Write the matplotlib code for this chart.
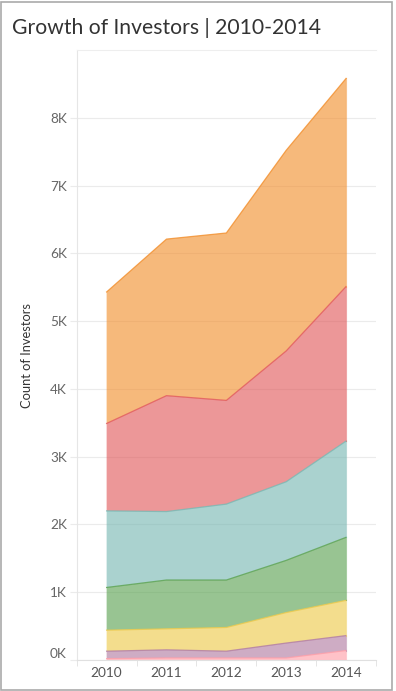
import matplotlib
matplotlib.use("Agg")
import matplotlib.pyplot as plt
from matplotlib.patches import Rectangle
from matplotlib.ticker import FixedLocator, FuncFormatter
import matplotlib.transforms as mtransforms
import numpy as np

years = ["2010", "2011", "2012", "2013", "2014"]
# series from bottom of stack to top
pink = [20, 30, 30, 30, 140]
purple = [110, 120, 100, 220, 220]
yellow = [310, 310, 350, 450, 520]
green = [630, 720, 700, 770, 930]
teal = [1130, 1010, 1120, 1160, 1420]
red = [1290, 1710, 1530, 1930, 2280]
orange = [1940, 2310, 2470, 2960, 3070]

series = [pink, purple, yellow, green, teal, red, orange]
edge_colors = ["#FF9DA7", "#B07AA1", "#EDC948", "#59A14F", "#76B7B2", "#E15759", "#F28E2B"]
yticks = [0, 1000, 2000, 3000, 4000, 5000, 6000, 7000, 8000]

W, H = 396, 691
fig = plt.figure(figsize=(W / 100, H / 100), dpi=100)
ax = fig.add_axes([76.7 / W, 1 - 660 / H, (376 - 76.7) / W, (660 - 50) / H])

x = np.arange(len(years))
base = np.zeros(len(years))
for vals, c in zip(series, edge_colors):
    top = base + np.array(vals)
    ax.fill_between(x, base, top, facecolor=c, alpha=0.62, edgecolor="none", zorder=2)
    ax.plot(x, top, color=c, lw=0.9, alpha=0.8, zorder=3)
    ax.plot([x[-1], x[-1]], [base[-1], top[-1]], color=c, lw=0.8, alpha=0.5, zorder=3)
    base = top

ax.set_xlim(-0.5, len(years) - 0.5)
ax.set_ylim(0, 9000)
ax.set_xticks(x)
ax.set_xticklabels(years)
ax.xaxis.set_minor_locator(FixedLocator(np.arange(-0.5, len(years), 1.0)))
ax.yaxis.set_major_locator(FixedLocator(yticks))
ax.yaxis.set_major_formatter(FuncFormatter(lambda v, p: f"{int(v/1000)}K"))

ax.grid(axis="y", color="#EBEBEB", lw=0.8, zorder=0)
ax.spines["right"].set_visible(False)
ax.spines["top"].set_color("#EEEEEE")
ax.spines["top"].set_linewidth(0.8)
ax.spines["left"].set_color("#E6E6E6")
ax.spines["left"].set_linewidth(0.8)
ax.spines["bottom"].set_color("#E0E0E0")
ax.spines["bottom"].set_linewidth(0.8)

font = "Lato"
ax.tick_params(axis="y", which="major", length=5, color="#EBEBEB", labelsize=9.8,
               labelcolor="#666666", pad=2)
ax.tick_params(axis="x", which="major", length=0, labelsize=9.8, labelcolor="#555555", pad=5)
ax.tick_params(axis="x", which="minor", length=4, color="#E0E0E0")
for lab in ax.get_xticklabels() + ax.get_yticklabels():
    lab.set_fontfamily(font)

fig.canvas.draw()
ylabs = ax.get_yticklabels()
ylabs[0].set_transform(ylabs[0].get_transform() +
                       mtransforms.ScaledTranslation(0, 7 / 100, fig.dpi_scale_trans))

ax.set_ylabel("Count of Investors", fontsize=9.3, color="#333333", family=font)
ax.yaxis.set_label_coords((33 - 76.7) / (376 - 76.7), 0.5)

fig.text(12 / W, 1 - 28 / H, "Growth of Investors | 2010-2014", fontsize=15.2,
         color="#333333", family=font, va="center", ha="left")

fig.add_artist(Rectangle((0.8 / W, 0.8 / H), (391.5 - 0.8) / W, (690 - 0.8 - 0.8) / H,
                         transform=fig.transFigure, fill=False, edgecolor="#AAAAAA", lw=1.2))

fig.savefig("out.png", dpi=100)
